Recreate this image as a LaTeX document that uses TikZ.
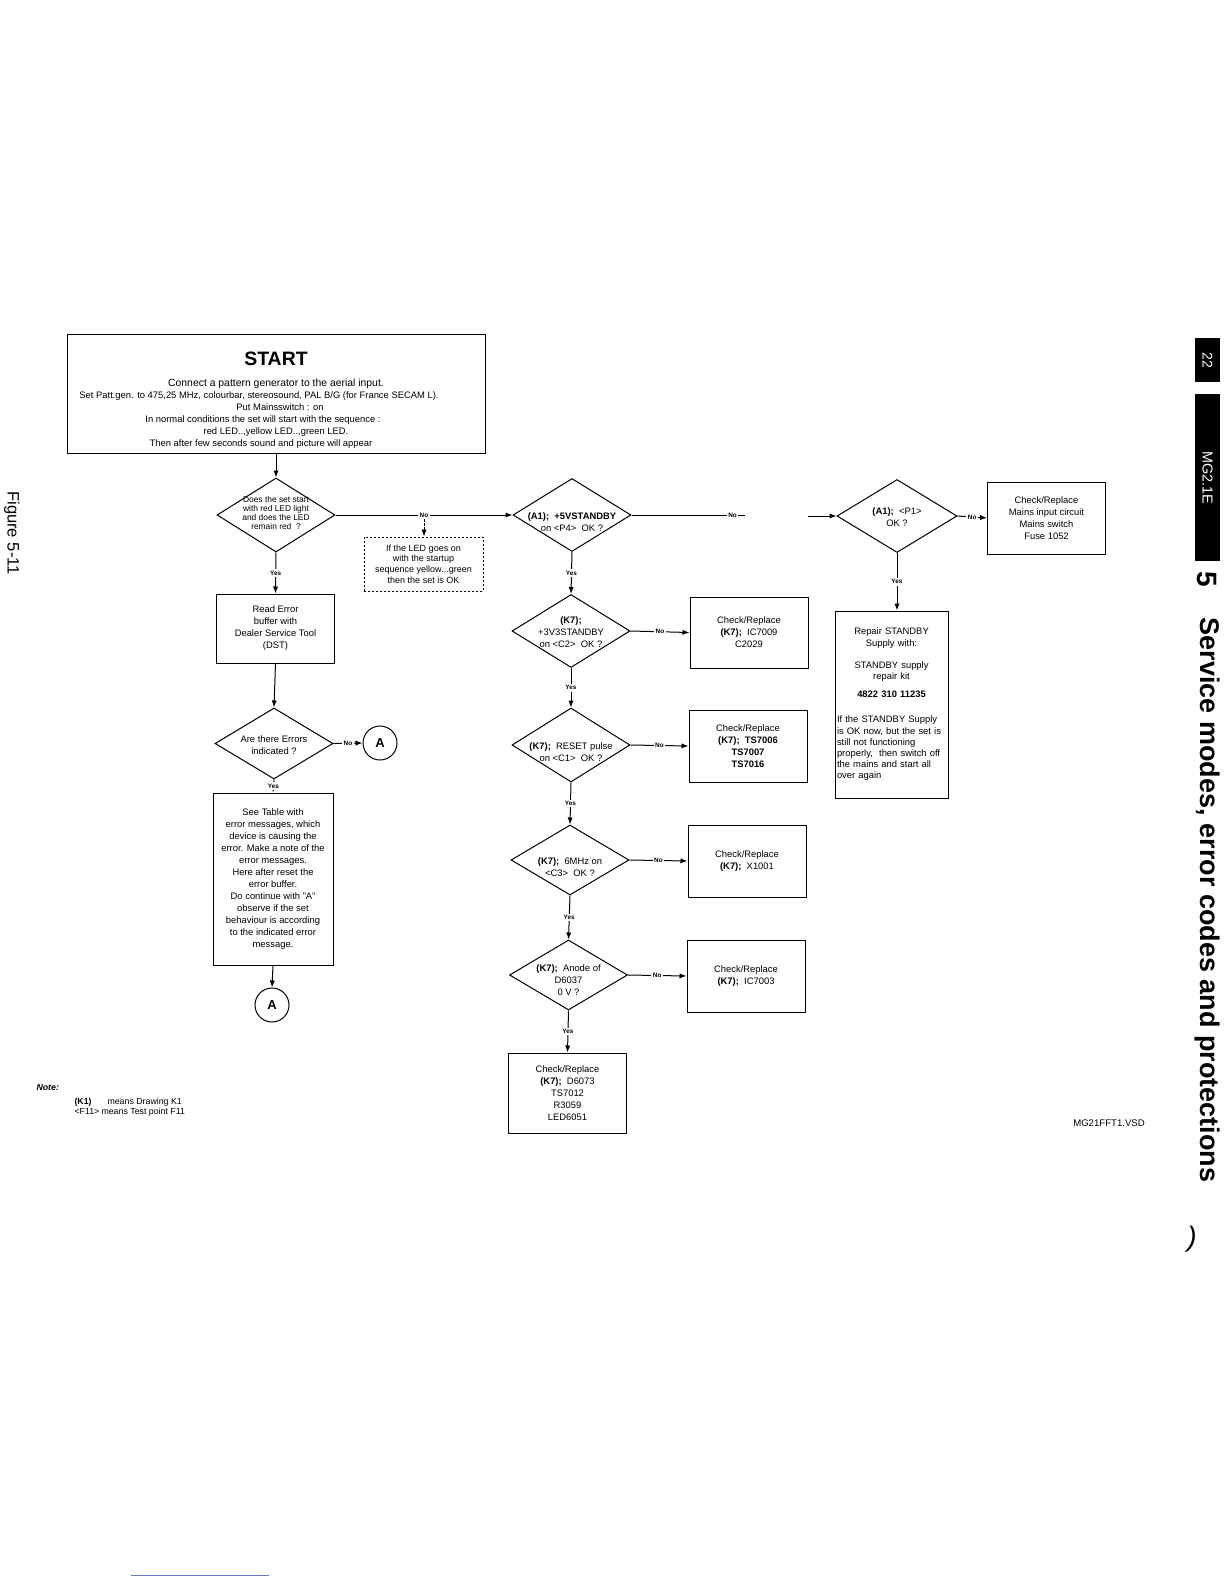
\documentclass[tikz,border=0pt]{standalone}
\usepackage{fontspec}
\setmainfont{Liberation Sans}
\usepackage{tikz}
\usetikzlibrary{shapes.geometric,arrows.meta}

\definecolor{linkblue}{RGB}{95,125,205}
\newcommand{\dtext}[2][2.5pt]{\makebox[0pt]{\smash{\raisebox{-#1}{\begin{tabular}{@{}c@{}}#2\end{tabular}}}}}

\begin{document}
\begin{tikzpicture}[x=0.5pt, y=-0.5pt, line width=0.5pt,
  txt/.style={font=\fontsize{4.7}{6}\selectfont},
  box/.style={draw, txt, align=center, inner sep=0pt, minimum width=59pt, minimum height=36pt},
  dia/.style={diamond, draw, txt, inner sep=0pt, minimum width=59pt, minimum height=36.5pt},
  conn/.style={circle, draw, inner sep=0pt, minimum size=17pt, font=\fontsize{6.5}{7}\selectfont\bfseries},
  arr/.style={-{Latex[length=3.5pt,width=2.6pt]}},
  lbl/.style={fill=white, inner sep=0.8pt, font=\fontsize{3.2}{4}\selectfont\bfseries},
  hint/.style={draw, dash pattern=on 1.2pt off 0.8pt, align=center, inner sep=0pt, font=\fontsize{4.5}{5.4}\selectfont},
  side/.style={rotate=-90, inner sep=0pt}]

\useasboundingbox (0,0) rectangle (1224,1584);

% start box
\node[box, minimum width=209pt, minimum height=59.5pt] (start) at (276,393.5)
  {\rule{0pt}{13.2pt}{\fontsize{9.7}{12}\selectfont\bfseries START}\\[4.7pt]
   {\fontsize{5.2}{6}\selectfont Connect a pattern generator to the aerial input.}\\
   Set Patt.gen. to 475,25 MHz, colourbar, stereosound, PAL B/G (for France SECAM L).\rule{17pt}{0pt}\\
   \rule{4pt}{0pt}Put Mainsswitch : on\\
   In normal conditions the set will start with the sequence :\rule{13pt}{0pt}\\
   red LED..,yellow LED..,green LED.\\
   Then after few seconds sound and picture will appear\rule{15pt}{0pt}};

% left column
\node[dia, minimum height=37pt, font=\fontsize{4.2}{4.5}\selectfont] (ledq) at (276,515)
  {\dtext[1pt]{Does the set start\\ with red LED light\\ and does the LED\\ remain red\ \ ?}};
\node[hint, minimum width=59.5pt, minimum height=27pt] (ledok) at (423.5,564)
  {If the LED goes on\\ with the startup\\ sequence yellow...green\\ then the set is OK};
\node[box, minimum height=34.5pt] (readerr) at (275.5,628.5)
  {Read Error\\ buffer with\\ Dealer Service Tool\\ (DST)};
\node[dia, minimum height=35.5pt] (errq) at (274,743.5) {\dtext{Are there Errors\\ indicated ?}};
\node[conn] (gotoa) at (380,743) {A};
\node[box, minimum width=60pt, minimum height=86pt] (errtab) at (273,879)
  {See Table with\\ error messages, which\\ device is causing the\\ error. Make a note of the\\
   error messages.\\ Here after reset the\\ error buffer.\\ Do continue with "A"\\
   observe if the set\\ behaviour is according\\ to the indicated error\\ message.};
\node[conn] (conta) at (272,1005) {A};

% middle column
\node[dia] (sbyq) at (572,515) {\dtext[5.5pt]{\textbf{(A1);\ \ +5VSTANDBY}\\ on <P4>\ \ OK ?}};
\node[dia] (v33q) at (571,631) {\dtext{\textbf{(K7);}\\ +3V3STANDBY\\ on <C2>\ \ OK ?}};
\node[box, minimum height=35.5pt] (v33fix) at (749,632.5) {Check/Replace\\ \textbf{(K7);}\ \ IC7009\\ C2029};
\node[dia, minimum height=37pt] (rstq) at (571,745) {\dtext[5.5pt]{\textbf{(K7);}\ \ RESET pulse\\ on <C1>\ \ OK ?}};
\node[box] (rstfix) at (748,746) {Check/Replace\\ \textbf{(K7);\ \ TS7006}\\ \textbf{TS7007}\\ \textbf{TS7016}};
\node[dia, minimum height=35pt] (xtalq) at (570,860) {\dtext[5.5pt]{\textbf{(K7);}\ \ 6MHz on\\ <C3>\ \ OK ?}};
\node[box] (xtalfix) at (747,861) {Check/Replace\\ \textbf{(K7);}\ \ X1001};
\node[dia, minimum height=35pt] (anodeq) at (568.5,975) {\dtext[4.5pt]{\textbf{(K7);}\ \ Anode of\\ D6037\\ 0 V ?}};
\node[box] (anodefix) at (746,976) {Check/Replace\\ \textbf{(K7);}\ \ IC7003};
\node[box, minimum height=40pt] (ledfix) at (567.5,1093)
  {Check/Replace\\ \textbf{(K7);}\ \ D6073\\ TS7012\\ R3059\\ LED6051};

% right column
\node[dia, minimum width=60pt] (mainsq) at (897,516) {\dtext{\textbf{(A1);}\ \ <P1>\\ OK ?}};
\node[box] (mainsfix) at (1046.5,518) {Check/Replace\\ Mains input circuit\\ Mains switch\\ Fuse 1052};
\node[draw, font=\fontsize{4.7}{5.6}\selectfont, inner sep=0pt, inner xsep=1pt, text width=54.5pt,
      minimum height=93.5pt] (repair) at (891.5,704.5)
  {{\centering Repair STANDBY\\ Supply with:\\[5.5pt] STANDBY supply\\ repair kit\\[3.5pt]
    \textbf{4822 310 11235}\par}\vspace{7pt}
   {\raggedright If the STANDBY Supply\\ is OK now, but the set is\\ still not functioning\\
    properly,\ \ then switch off\\ the mains and start all\\ over again\par}};

% connectors
\draw[arr] (start.south) -- (ledq.north);
\draw[arr] (ledq.east) -- node[lbl] (noled) {No} (sbyq.west);
\draw[arr, dash pattern=on 1.2pt off 0.8pt] (noled.south) -- (noled.south |- ledok.north);
\draw[arr] (ledq.south) -- node[lbl] {Yes} (readerr.north);
\draw[arr] (readerr.south) -- (errq.north);
\draw[arr] (errq.east) -- node[lbl] {No} (gotoa.west);
\draw[arr] (errq.south) -- node[lbl] {Yes} (errtab.north);
\draw[arr] (errtab.south) -- (conta.north);

\draw[arr] (sbyq.south) -- node[lbl] {Yes} (v33q.north);
\draw[arr] (v33q.east) -- node[lbl] {No} (v33fix.west);
\draw[arr] (v33q.south) -- node[lbl] {Yes} (rstq.north);
\draw[arr] (rstq.east) -- node[lbl] {No} (rstfix.west);
\draw[arr] (rstq.south) -- node[lbl] {Yes} (xtalq.north);
\draw[arr] (xtalq.east) -- node[lbl] {No} (xtalfix.west);
\draw[arr] (xtalq.south) -- node[lbl] {Yes} (anodeq.north);
\draw[arr] (anodeq.east) -- node[lbl] {No} (anodefix.west);
\draw[arr] (anodeq.south) -- node[lbl] {Yes} (ledfix.north);

\coordinate (gapl) at (745,515);
\coordinate (gapr) at (808,516);
\draw (sbyq.east) -- node[lbl, pos=0.89] {No} (gapl);
\draw[arr] (gapr) -- (mainsq.west);
\draw[arr] (mainsq.east) -- node[lbl] {No} (mainsfix.west);
\draw[arr] (mainsq.south) -- node[lbl] {Yes} (mainsq.south |- repair.north);

% note and file name
\node[anchor=base west, inner sep=0pt, font=\fontsize{4.4}{5}\selectfont\bfseries\itshape] (note) at (36,1090) {Note:};
\node[anchor=base west, inner sep=0pt, font=\fontsize{4.4}{5}\selectfont\bfseries] (kref) at (74,1104) {(K1)};
\node[anchor=base west, inner sep=0pt, font=\fontsize{4.4}{5}\selectfont] (kreft) at (107,1104) {means Drawing K1};
\node[anchor=base west, inner sep=0pt, font=\fontsize{4.4}{5}\selectfont] (fref) at (74,1114) {<F11>};
\node[anchor=base west, inner sep=0pt, font=\fontsize{4.4}{5}\selectfont] (freft) at (101,1114) {means Test point F11};
\node[inner sep=0pt, font=\fontsize{4.8}{5}\selectfont] (vsd) at (1109,1123) {MG21FFT1.VSD};

% page margin
\node[side, font=\fontsize{8.3}{9}\selectfont] (fig) at (12,533) {Figure 5-11};
\fill (1195,338) rectangle (1220,382);
\node[side, white, font=\fontsize{7}{8}\selectfont] (pagenr) at (1207.5,360) {22};
\fill (1195,394) rectangle (1220,561);
\node[side, white, font=\fontsize{7.2}{8}\selectfont] (model) at (1207.5,477.5) {MG2.1E};
\node[side, font=\fontsize{14}{15}\selectfont\bfseries] (chap) at (1207,579) {5};
\node[side, font=\fontsize{13.5}{15}\selectfont\bfseries] (title) at (1207,900) {Service modes, error codes and protections};
\node[inner sep=0pt, font=\fontsize{14}{14}\selectfont\itshape] (paren) at (1192,1239) {)};
\draw[linkblue] (131,1575) -- (269,1575);
\end{tikzpicture}
\end{document}
